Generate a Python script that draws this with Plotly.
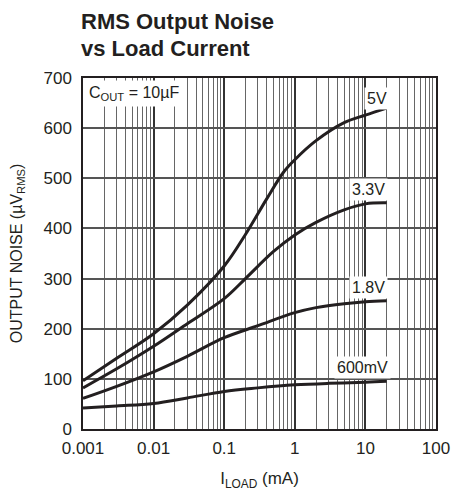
import math
import plotly.graph_objects as go

FONT = "Liberation Sans, Arial, sans-serif"
INK = "#231f20"

# Load current (mA) and RMS output noise (µV RMS)
x_5v = [0.001, 0.003, 0.01, 0.03, 0.1, 0.2, 0.4, 0.7, 1, 2, 5, 10, 20]
y_5v = [96, 141, 190, 247, 325, 388, 459, 513, 537, 575, 611, 626, 640]

x_33v = [0.001, 0.003, 0.01, 0.03, 0.1, 0.2, 0.5, 1, 2, 5, 10, 20]
y_33v = [82, 120, 165, 210, 260, 300, 354, 387, 412, 437, 449, 451]

x_18v = [0.001, 0.003, 0.01, 0.03, 0.1, 0.3, 1, 2, 5, 10, 20]
y_18v = [61, 85, 114, 145, 182, 206, 232, 242, 250, 254, 256]

x_600 = [0.001, 0.003, 0.01, 0.03, 0.1, 0.3, 1, 3, 10, 20]
y_600 = [42, 46, 51, 62, 75, 82, 88, 91, 93, 95]

series_names = ["5V", "3.3V", "1.8V", "600mV"]
series_x = [x_5v, x_33v, x_18v, x_600]
series_y = [y_5v, y_33v, y_18v, y_600]
label_x = [14.5, 10.9, 10.9, 9.0]
label_y = [660, 477, 283, 122]

x_ticks = [0.001, 0.01, 0.1, 1, 10, 100]
x_ticktext = ["0.001", "0.01", "0.1", "1", "10", "100"]
minor_vals = [m * 10 ** e for e in range(-3, 2) for m in range(2, 10)]

fig = go.Figure()
for name, xs, ys, lx, ly in zip(series_names, series_x, series_y, label_x, label_y):
    fig.add_trace(go.Scatter(x=xs, y=ys, mode="lines", name=name,
                             line=dict(color=INK, width=3, shape="spline", smoothing=1.0),
                             showlegend=False, hoverinfo="skip"))
    fig.add_annotation(x=math.log10(lx), y=ly, xref="x", yref="y", text=name, showarrow=False,
                       font=dict(family=FONT, size=16, color=INK),
                       bgcolor="white", borderpad=2)

fig.add_annotation(x=0, y=1, xref="paper", yref="paper", xanchor="left", yanchor="top",
                   text="C<sub>OUT</sub> = 10µF", showarrow=False, xshift=2, yshift=-2,
                   font=dict(family=FONT, size=16, color=INK),
                   bgcolor="white", borderpad=3)

# Title as two lines
PH = 351.0
fig.add_annotation(x=-4 / 353, y=1 + (78 - 22) / PH, xref="paper", yref="paper",
                   xanchor="left", yanchor="middle", showarrow=False,
                   text="<b>RMS Output Noise</b>", font=dict(family=FONT, size=22, color=INK))
fig.add_annotation(x=-4 / 353, y=1 + (78 - 49) / PH, xref="paper", yref="paper",
                   xanchor="left", yanchor="middle", showarrow=False,
                   text="<b>vs Load Current</b>", font=dict(family=FONT, size=22, color=INK))

# page body has an 8px margin, so the figure is sized and offset to compensate
fig.update_layout(
    width=458, height=486,
    margin=dict(l=75, r=30, t=70, b=65, autoexpand=False),
    paper_bgcolor="white", plot_bgcolor="white",
    font=dict(family=FONT, color=INK),
)

fig.update_xaxes(
    type="log", range=[-3, 2], automargin=False,
    tickvals=x_ticks, ticktext=x_ticktext,
    tickfont=dict(family=FONT, size=17, color=INK),
    showgrid=True, gridcolor="#333333", gridwidth=2,
    minor=dict(tickvals=minor_vals, showgrid=True, gridcolor="#666666", gridwidth=1, ticks=""),
    showline=True, linecolor=INK, linewidth=1.5, mirror=True,
    ticks="", ticklabelstandoff=3,
    title=dict(text="I<sub>LOAD</sub> (mA)", font=dict(family=FONT, size=17, color=INK),
               standoff=15),
    zeroline=False,
)
fig.update_yaxes(
    range=[0, 700], dtick=100, automargin=False,
    tickfont=dict(family=FONT, size=17, color=INK),
    showgrid=True, gridcolor="#555555", gridwidth=1.5,
    showline=True, linecolor=INK, linewidth=1.5, mirror=True,
    ticks="", ticklabelstandoff=6,
    title=dict(text="OUTPUT NOISE (µV<sub>RMS</sub>)", font=dict(family=FONT, size=16, color=INK),
               standoff=18),
    zeroline=False,
)

fig.write_html("out.html")
